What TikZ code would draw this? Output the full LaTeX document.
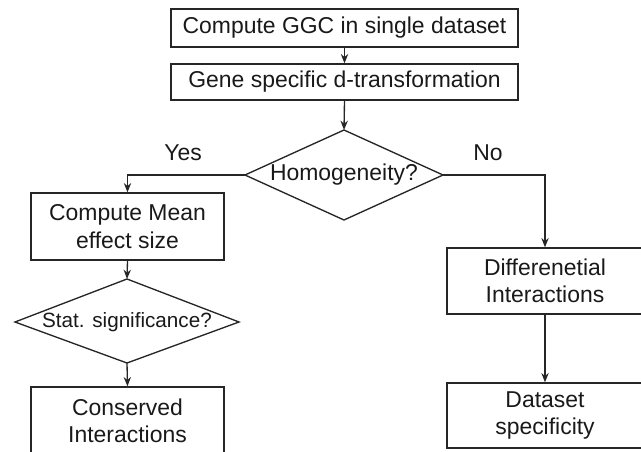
\documentclass[tikz,border=0pt]{standalone}
\usepackage{fontspec}
\setmainfont{Liberation Sans}
\usetikzlibrary{arrows.meta}
\begin{document}
\begin{tikzpicture}[x=0.75pt,y=-0.75pt,
  box/.style={draw=black!85, line width=1pt, inner sep=0pt, align=center,
    font=\fontsize{17.2}{20.5}\selectfont, text=black!90},
  lbl/.style={inner sep=0pt, font=\fontsize{17.2}{20.5}\selectfont, text=black!90},
  conn/.style={draw=black!85, line width=1pt, -{Stealth[length=7pt,width=5.5pt]}},
  dia/.style={draw=black!85, line width=1pt}]
\useasboundingbox (0,0) rectangle (641,452);
% boxes
\node[box, minimum width={347*0.75pt}, minimum height={38*0.75pt}] (b1) at (344.5,28) {Compute GGC in single dataset};
\node[box, minimum width={347*0.75pt}, minimum height={36*0.75pt}] (b2) at (344.5,82) {Gene specific d-transformation};
\node[box, minimum width={193*0.75pt}, minimum height={67*0.75pt}] (b3) at (127.5,226.5) {Compute Mean\\effect size};
\node[box, minimum width={193*0.75pt}, minimum height={67*0.75pt}] (b5) at (127.5,420.5) {Conserved\\Interactions};
\node[box, minimum width={196*0.75pt}, minimum height={66*0.75pt}] (b4) at (545,281) {Differenetial\\Interactions};
\node[box, minimum width={196*0.75pt}, minimum height={65*0.75pt}] (b6) at (545,415.5) {Dataset\\specificity};
% diamond 1
\coordinate (d1t) at (344,130);
\coordinate (d1b) at (344,220);
\coordinate (d1l) at (245,175);
\coordinate (d1r) at (443,175);
\draw[dia] (d1t) -- (d1r) -- (d1b) -- (d1l) -- cycle;
\node[lbl] (d1) at (344,175) {Homogeneity?};
% diamond 2
\coordinate (d2t) at (127,279);
\coordinate (d2b) at (127,363);
\coordinate (d2l) at (15,322);
\coordinate (d2r) at (239,322);
\draw[dia] (d2t) -- (d2r) -- (d2b) -- (d2l) -- cycle;
\node[lbl, font=\fontsize{15.5}{18}\selectfont] (d2) at (127,322) {Stat. significance?};
% labels
\node[lbl] (yes) at (183,153) {Yes};
\node[lbl] (no) at (488,153) {No};
% connectors
\draw[conn] (b1.south) -- (b2.north);
\draw[conn] (b2.south) -- (d1t);
\draw[conn] (d1l) -| (b3.north);
\draw[conn] (d1r) -| (b4.north);
\draw[conn] (b3.south) -- (d2t);
\draw[conn] (d2b) -- (b5.north);
\draw[conn] (b4.south) -- (b6.north);
\end{tikzpicture}
\end{document}
